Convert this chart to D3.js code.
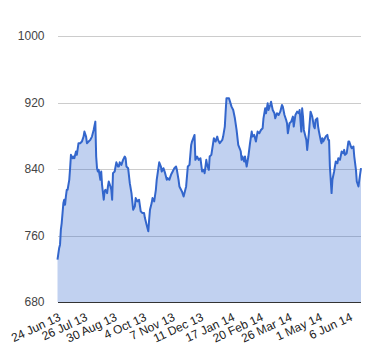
<!DOCTYPE html>
<html>
<head>
<meta charset="utf-8">
<script src="https://cdnjs.cloudflare.com/ajax/libs/d3/7.8.5/d3.min.js"></script>
<style>
html, body { margin: 0; padding: 0; background: #fff; }
svg { display: block; font-family: Arial, "Liberation Sans", sans-serif; }
</style>
</head>
<body>
<svg id="chart" width="380" height="360"></svg>
<script>
// ---- data ----
const startDate = "2013-06-24";
const endDayOffset = 361;
const dayOffsets = [0,2,3,4,5,7,8,9,10,11,12,14,15,16,18,19,20,22,23,25,27,29,31,32,34,35,37,39,41,43,45,46,47,48,49,51,52,53,55,56,57,59,60,61,63,64,65,66,68,70,72,73,74,76,78,80,81,82,84,86,88,90,92,93,95,97,99,101,103,104,106,108,109,110,112,113,115,117,118,120,121,123,124,126,128,130,131,133,135,137,139,141,142,144,145,148,150,153,155,157,159,160,163,164,166,168,170,172,174,175,177,178,180,181,183,186,188,190,191,193,196,197,199,200,201,204,207,209,211,213,215,217,218,219,220,222,223,225,227,229,231,232,234,236,238,240,242,244,245,247,248,250,251,253,254,256,258,259,261,263,265,267,268,270,272,273,274,276,278,280,281,283,285,287,288,290,291,292,293,296,297,299,301,303,305,306,307,309,310,311,313,314,315,316,318,319,321,322,323,324,326,327,329,331,333,334,336,338,340,341,342,344,346,347,349,350,352,353,355,356,358,359,361];
const prices = [731,745,749,767,775,799,803,797,807,815,815,827,841,857,853,855,853,861,857,871,871,873,879,885,879,871,873,875,879,887,897,855,841,837,839,827,837,821,803,813,815,811,819,825,819,815,803,835,837,848,843,843,848,845,851,855,853,843,841,823,811,791,795,805,801,803,789,787,787,781,773,765,779,791,799,805,801,815,827,841,848,843,837,841,835,827,829,827,833,837,841,843,839,827,819,813,807,819,843,845,869,873,881,851,855,851,853,837,839,835,851,845,839,855,857,877,873,879,875,871,875,879,891,909,925,925,915,911,901,887,869,864,861,851,855,849,855,843,855,871,885,879,881,873,885,883,887,889,901,913,907,919,911,917,921,911,907,901,907,905,909,917,915,905,899,895,883,895,897,903,891,905,909,907,911,885,913,903,887,875,863,883,909,903,891,889,899,901,891,885,875,871,877,873,877,879,881,875,875,843,811,827,837,849,847,853,851,861,859,863,857,859,873,873,867,865,867,855,839,825,819,827,841];
const yTicks = [680, 760, 840, 920, 1000];
const xTickLabels = ["24 Jun 13","26 Jul 13","30 Aug 13","4 Oct 13","7 Nov 13","11 Dec 13","17 Jan 14","20 Feb 14","26 Mar 14","1 May 14","6 Jun 14"];

// ---- build ----
const parseISO = d3.utcParse("%Y-%m-%d");
const parseLabel = d3.utcParse("%e %b %y");
const startDay = parseISO(startDate);
const data = dayOffsets.map((d, i) => ({ date: d3.utcDay.offset(startDay, d), value: prices[i] }));
const tickDates = xTickLabels.map(s => parseLabel(s));

const plotLeft = 57.5, plotRight = 361, plotTop = 36, plotBottom = 302;
const svg = d3.select("#chart");

const x = d3.scaleUtc().domain([startDay, d3.utcDay.offset(startDay, endDayOffset)]).range([plotLeft, plotRight]);
const y = d3.scaleLinear().domain([680, 1000]).range([plotBottom, plotTop]);

// gridlines
const grid = svg.append("g")
  .attr("transform", `translate(${plotLeft},0)`)
  .call(d3.axisLeft(y).tickValues(yTicks).tickSize(-(plotRight - plotLeft)).tickFormat(""));
grid.select(".domain").remove();
grid.selectAll(".tick line").attr("stroke", "#cccccc").attr("stroke-width", 1).attr("shape-rendering", "crispEdges");

// area + line
svg.append("path")
  .datum(data)
  .attr("fill", "#3366cc")
  .attr("fill-opacity", 0.3)
  .attr("d", d3.area().x(d => x(d.date)).y0(y(680)).y1(d => y(d.value)));

svg.append("path")
  .datum(data)
  .attr("fill", "none")
  .attr("stroke", "#3366cc")
  .attr("stroke-width", 2)
  .attr("stroke-linejoin", "round")
  .attr("d", d3.line().x(d => x(d.date)).y(d => y(d.value)));

// baseline
svg.append("line")
  .attr("x1", plotLeft).attr("x2", plotRight)
  .attr("y1", y(680)).attr("y2", y(680))
  .attr("stroke", "#333333").attr("stroke-width", 1).attr("shape-rendering", "crispEdges");

// y labels
const yAxis = svg.append("g")
  .attr("transform", `translate(${plotLeft},0)`)
  .call(d3.axisLeft(y).tickValues(yTicks).tickSize(0).tickPadding(13).tickFormat(d3.format("d")));
yAxis.select(".domain").remove();
yAxis.selectAll("text").attr("fill", "#444").style("font-size", "12px").style("font-family", "Arial, 'Liberation Sans', sans-serif");

// x labels
const xAxis = svg.append("g")
  .attr("transform", `translate(0,${plotBottom})`)
  .call(d3.axisBottom(x).tickValues(tickDates).tickSize(0).tickFormat((d, i) => xTickLabels[i]));
xAxis.select(".domain").remove();
xAxis.selectAll("text")
  .attr("fill", "#222")
  .style("font-size", "12px")
  .style("font-family", "Arial, 'Liberation Sans', sans-serif")
  .attr("text-anchor", "end")
  .attr("y", 0).attr("dy", 0)
  .attr("transform", "translate(3.5,18) rotate(-25)");
</script>
</body>
</html>
